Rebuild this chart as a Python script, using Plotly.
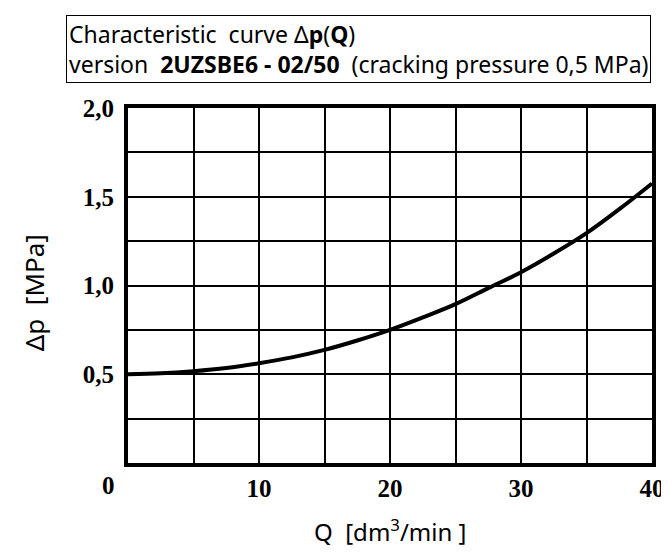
import plotly.graph_objects as go

# Data
flow_q = [0, 2.5, 5, 7.5, 10, 12.5, 15, 17.5, 20, 22.5, 25, 27.5, 30, 32.5, 35, 37.5, 40]
delta_p = [0.50, 0.505, 0.517, 0.535, 0.562, 0.595, 0.637, 0.69, 0.75, 0.82,
           0.895, 0.985, 1.075, 1.18, 1.295, 1.43, 1.575]

x_tick_vals = [0, 5, 10, 15, 20, 25, 30, 35, 40]
x_tick_text = ["", "", "10", "", "20", "", "30", "", "40"]
y_tick_vals = [0, 0.25, 0.5, 0.75, 1.0, 1.25, 1.5, 1.75, 2.0]
y_tick_text = ["", "", "0,5", "", "1,0", "", "1,5", "", "2,0"]

title_line1 = "Characteristic  curve Δ<b>p</b>(<b>Q</b>)"
title_line2 = "version  <b>2UZSBE6 - 02/50</b>  (cracking pressure 0,5 MPa)"
x_title = "Q  [dm<sup>3</sup>/min ]"
y_title = "Δp  [MPa]"

tick_font = dict(family="Liberation Serif", size=25, color="black", weight="bold")
sans = "Noto Sans"

fig = go.Figure()
fig.add_trace(go.Scatter(
    x=flow_q, y=delta_p, mode="lines",
    line=dict(color="black", width=4, shape="spline"),
    hoverinfo="skip", showlegend=False,
))

fig.update_layout(
    width=669, height=552,
    margin=dict(l=120, r=15, t=100, b=97),
    paper_bgcolor="white", plot_bgcolor="white",
    xaxis=dict(
        range=[0, 40], tickvals=x_tick_vals, ticktext=x_tick_text,
        showgrid=True, gridcolor="black", gridwidth=2,
        showline=True, linecolor="black", linewidth=4, mirror=True,
        zeroline=False, ticks="", tickfont=tick_font,
        ticklabelstandoff=0,
    ),
    yaxis=dict(
        range=[0, 2.0], tickvals=y_tick_vals, ticktext=y_tick_text,
        showgrid=True, gridcolor="black", gridwidth=2,
        showline=True, linecolor="black", linewidth=4, mirror=True,
        zeroline=False, ticks="", tickfont=tick_font,
        ticklabelstandoff=5,
    ),
)

# Corner "0" label
fig.add_annotation(x=0, y=0, xref="x", yref="y", text="0", showarrow=False,
                   font=tick_font, xanchor="center", yanchor="middle",
                   xshift=-20, yshift=-22)

# Axis titles
fig.add_annotation(x=0.5, y=-0.19, xref="paper", yref="paper", text=x_title,
                   showarrow=False, font=dict(family=sans, size=24, color="black"),
                   xanchor="center", yanchor="middle")
fig.add_annotation(x=-0.18, y=0.48, xref="paper", yref="paper", text=y_title,
                   showarrow=False, textangle=-90,
                   font=dict(family=sans, size=26, color="black"),
                   xanchor="center", yanchor="middle")

# Title box
fig.add_annotation(x=-0.118, y=1.262, xref="paper", yref="paper",
                   text=title_line1 + "<br>" + title_line2,
                   showarrow=False, align="left", xanchor="left", yanchor="top",
                   font=dict(family=sans, size=23, color="black"),
                   bordercolor="black", borderwidth=1, borderpad=2,
                   bgcolor="white")

fig.write_html("out.html")
